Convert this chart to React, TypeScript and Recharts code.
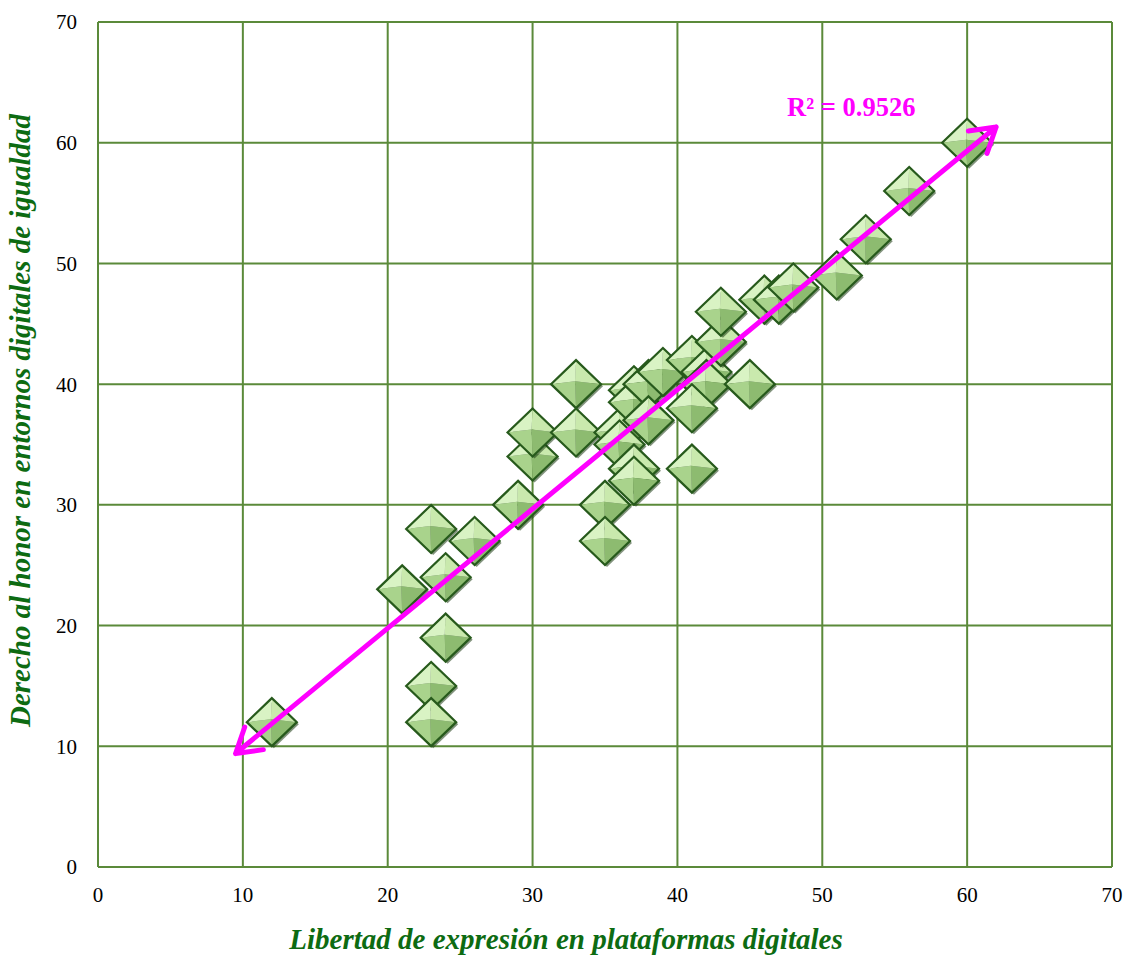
import {
  ScatterChart,
  Scatter,
  XAxis,
  YAxis,
  CartesianGrid,
  ReferenceDot,
} from "recharts";

// Libertad de expresión (x) vs Derecho al honor (y)
const libertad = [
  12, 21, 23, 24, 24, 23, 23, 26, 29, 30, 30, 33, 33, 35, 35, 36, 36, 37, 37,
  37, 37, 38, 38, 39, 41, 42, 42, 41, 41, 45, 43, 43, 46, 47, 48, 51, 53, 56, 60,
];
const honor = [
  12, 23, 28, 24, 19, 15, 12, 27, 30, 34, 36, 40, 36, 30, 27, 36, 35, 33, 32,
  39.5, 38.5, 40, 37, 41, 42, 41, 40, 38, 33, 40, 43.5, 46, 47, 47, 48, 49, 52,
  56, 60,
];

// trend arrow ends
const trendX = [9.5, 62];
const trendY = [9.4, 61.3];

const ticks = [0, 10, 20, 30, 40, 50, 60, 70];
const r2Label = "R² = 0.9526";

const points = libertad.map((x, i) => ({ x, y: honor[i] }));
const trend = trendX.map((x, i) => ({ x, y: trendY[i] }));

const GRID = "#5b8a3a";
const TITLE = "#0d6b12";
const MAGENTA = "#ff00ff";
const SERIF = '"Times New Roman", "Liberation Serif", serif';

// beveled green diamond, like the excel marker
const Diamond = (props: any) => {
  const { cx, cy } = props;
  if (cx == null || cy == null) return <g />;
  const w = 25;
  const h = 24;
  const ax = cx - 1;
  const ay = cy - 3;
  const T = `${cx},${cy - h}`;
  const R = `${cx + w},${cy}`;
  const B = `${cx},${cy + h}`;
  const L = `${cx - w},${cy}`;
  const A = `${ax},${ay}`;
  return (
    <g>
      <polygon
        points={`${cx + 2},${cy - h + 2} ${cx + w + 2},${cy + 2} ${cx + 2},${cy + h + 2} ${cx - w + 2},${cy + 2}`}
        fill="#1e3d14"
        opacity={0.55}
      />
      <polygon points={`${T} ${R} ${A}`} fill="#c9e9ad" />
      <polygon points={`${T} ${L} ${A}`} fill="#d9f3c4" />
      <polygon points={`${L} ${B} ${A}`} fill="#a9d38c" />
      <polygon points={`${R} ${B} ${A}`} fill="#8dbb70" />
      <polygon
        points={`${T} ${R} ${B} ${L}`}
        fill="none"
        stroke="#275a1c"
        strokeWidth={2.2}
        strokeLinejoin="miter"
      />
    </g>
  );
};

const NoDot = () => <g />;

// double headed arrow drawn through the scatter line points
const Arrow = (props: any) => {
  const pts = props.points;
  if (!pts || pts.length < 2) return <g />;
  const a = pts[0];
  const b = pts[pts.length - 1];
  const ang = Math.atan2(b.y - a.y, b.x - a.x);
  const len = 28;
  const sp = 0.55;
  const arm = (p: any, sign: number, da: number) =>
    `M${p.x},${p.y} L${p.x - sign * len * Math.cos(ang + da)},${p.y - sign * len * Math.sin(ang + da)}`;
  const d = [
    `M${a.x},${a.y} L${b.x},${b.y}`,
    arm(b, 1, sp),
    arm(b, 1, -sp),
    arm(a, -1, sp),
    arm(a, -1, -sp),
  ].join(" ");
  return (
    <path
      d={d}
      fill="none"
      stroke={MAGENTA}
      strokeWidth={5}
      strokeLinecap="round"
      strokeLinejoin="round"
    />
  );
};

export default function App() {
  return (
    <div style={{ position: "absolute", left: 0, top: 0 }}>
      <ScatterChart
        width={1128}
        height={958}
        margin={{ top: 22, right: 16, left: 0, bottom: 0 }}
        style={{ fontFamily: SERIF }}
      >
        <CartesianGrid stroke={GRID} strokeWidth={2} />
        <XAxis
          type="number"
          dataKey="x"
          domain={[0, 70]}
          ticks={ticks}
          height={91}
          axisLine={{ stroke: GRID, strokeWidth: 2 }}
          tickLine={false}
          tickSize={18}
          tickMargin={2}
          tick={{ fill: "#000", fontSize: 21, fontFamily: SERIF }}
          label={{
            value: "Libertad de expresión en plataformas digitales",
            position: "insideBottom",
            offset: 9,
            dx: -39,
            fill: TITLE,
            fontSize: 29,
            fontWeight: "bold",
            fontStyle: "italic",
            fontFamily: SERIF,
          }}
        />
        <YAxis
          type="number"
          dataKey="y"
          domain={[0, 70]}
          ticks={ticks}
          width={98}
          axisLine={{ stroke: GRID, strokeWidth: 2 }}
          tickLine={false}
          tickSize={19}
          tickMargin={2}
          tick={{ fill: "#000", fontSize: 21, fontFamily: SERIF }}
          label={{
            value: "Derecho al honor en entornos digitales de igualdad",
            angle: -90,
            position: "insideLeft",
            offset: 20,
            dy: -24,
            style: { textAnchor: "middle" },
            fill: TITLE,
            fontSize: 29,
            fontWeight: "bold",
            fontStyle: "italic",
            fontFamily: SERIF,
          }}
        />
        <Scatter data={points} shape={<Diamond />} isAnimationActive={false} />
        <Scatter
          data={trend}
          shape={<NoDot />}
          line={Arrow}
          isAnimationActive={false}
        />
        <ReferenceDot
          x={52}
          y={63}
          r={0}
          fill="none"
          stroke="none"
          label={{
            value: r2Label,
            position: "center",
            fill: MAGENTA,
            fontSize: 26.5,
            fontWeight: "bold",
            fontFamily: SERIF,
          }}
        />
      </ScatterChart>
    </div>
  );
}
